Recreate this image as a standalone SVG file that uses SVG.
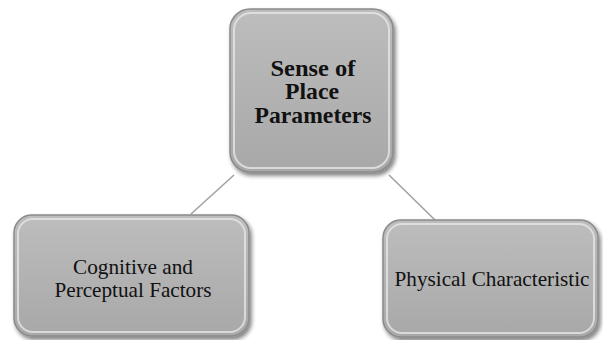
<svg xmlns="http://www.w3.org/2000/svg" width="603" height="340" viewBox="0 0 603 340">
<defs>
<linearGradient id="g" x1="0" y1="0" x2="0" y2="1">
<stop offset="0" stop-color="#bdbdbd"/>
<stop offset="1" stop-color="#a8a8a8"/>
</linearGradient>
<filter id="sh" x="-10%" y="-10%" width="130%" height="130%">
<feGaussianBlur in="SourceAlpha" stdDeviation="2"/>
<feOffset dx="2" dy="3"/>
<feComponentTransfer><feFuncA type="linear" slope="0.5"/></feComponentTransfer>
<feMerge><feMergeNode/><feMergeNode in="SourceGraphic"/></feMerge>
</filter>
</defs>
<style>
.box{fill:url(#g);stroke:#8a8a8a;stroke-width:1.5;filter:url(#sh)}
.bev{fill:none;stroke:#e6e6e6;stroke-width:2;opacity:0.8}
.t{font-family:"Liberation Serif","Times New Roman","DejaVu Serif",serif;fill:#111;text-anchor:middle}
.c{stroke:#a0a0a0;stroke-width:1.5;fill:none}
</style>
<rect width="603" height="340" fill="#ffffff"/>
<g id="connectors">
<line class="c" x1="234" y1="175" x2="191" y2="214"/>
<line class="c" x1="389" y1="175" x2="435" y2="220"/>
</g>
<g id="top">
<rect class="box" x="230" y="9" width="163" height="163" rx="20"/>
<rect class="bev" x="234" y="13" width="155" height="155" rx="17"/>
<text class="t" x="313" y="76" font-size="23" font-weight="bold" textLength="85" lengthAdjust="spacingAndGlyphs">Sense of</text>
<text class="t" x="312" y="99" font-size="23" font-weight="bold" textLength="54" lengthAdjust="spacingAndGlyphs">Place</text>
<text class="t" x="313" y="123" font-size="23" font-weight="bold" textLength="117" lengthAdjust="spacingAndGlyphs">Parameters</text>
</g>
<g id="left">
<rect class="box" x="14" y="215" width="235" height="121" rx="18"/>
<rect class="bev" x="18" y="219" width="227" height="113" rx="15"/>
<text class="t" x="133" y="274" font-size="21" textLength="120" lengthAdjust="spacingAndGlyphs">Cognitive and</text>
<text class="t" x="133" y="297" font-size="21" textLength="157" lengthAdjust="spacingAndGlyphs">Perceptual Factors</text>
</g>
<g id="right">
<rect class="box" x="383" y="220" width="215" height="117" rx="18"/>
<rect class="bev" x="387" y="224" width="207" height="109" rx="15"/>
<text class="t" x="492" y="286" font-size="21" textLength="195" lengthAdjust="spacingAndGlyphs">Physical Characteristic</text>
</g>
</svg>
